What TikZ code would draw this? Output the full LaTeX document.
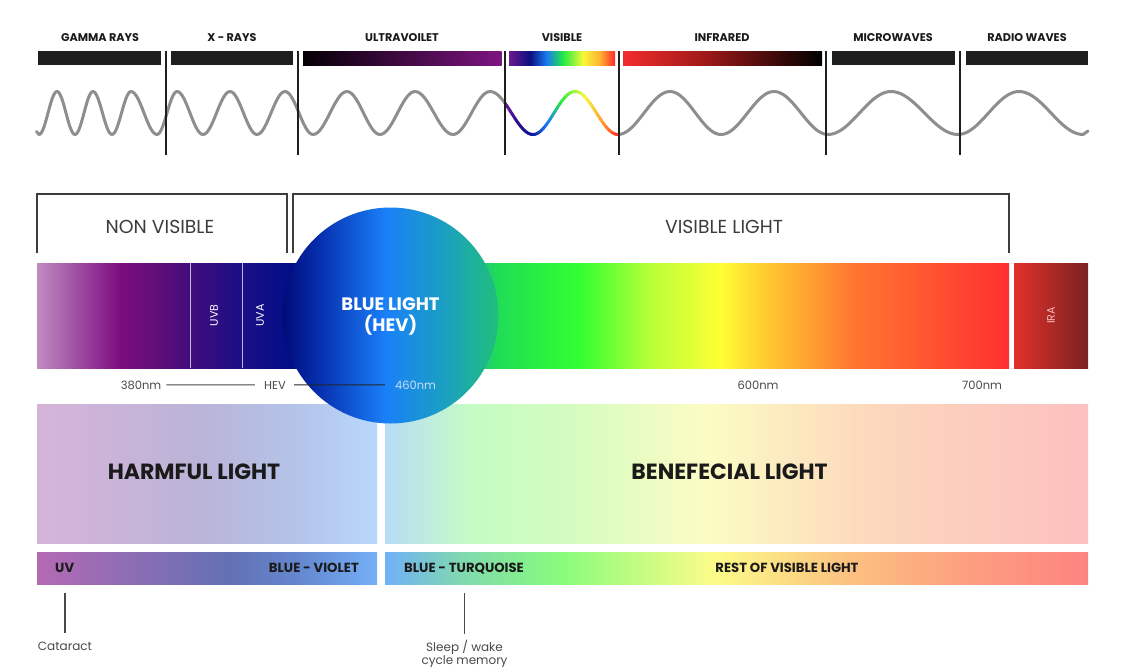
\documentclass[tikz,border=0pt]{standalone}
\usepackage{fontspec}
\setmainfont{Poppins}
\definecolor{ink}{HTML}{1A1A1A}
\definecolor{soft}{HTML}{3C3C3C}
\definecolor{note}{HTML}{4A4A4A}
\definecolor{barblack}{HTML}{1F1F1F}
\definecolor{wavegray}{HTML}{8E8E8E}
\definecolor{divider}{HTML}{1E1E1E}
\definecolor{iratext}{HTML}{F4B8B8}
\definecolor{hevtext}{HTML}{C8DCF8}
% horizontal multi-stop gradient: #1 top y, #2 bottom y, #3 list x/HEX
\newcommand\hgrad[3]{%
  \foreach \gx/\gc [remember=\gx as \gpx (initially 0), remember=\gc as \gpc (initially FFFFFF), count=\gi] in {#3}{%
    \ifnum\gi>1
      \definecolor{ga}{HTML}{\gpc}\definecolor{gb}{HTML}{\gc}%
      \shade[left color=ga,right color=gb] (\gpx,#1) rectangle ({\gx+0.5},#2);
    \fi}}
\begin{document}
\begin{tikzpicture}[x=1pt,y=-1pt,
  declare function={wvy(\t)=(\t<533)?(113-21.5*cos((\t-490)/43*180)):((\t<575)?(113+21.5*cos((\t-533)/42*180)):(113-21.5*cos((\t-575)/43*180)));},
  every node/.style={inner sep=0pt},
  toplab/.style={anchor=base, font=\bfseries\fontsize{11.2}{13}\selectfont, text=ink},
  brlab/.style={anchor=base, font=\fontsize{18.8}{22}\selectfont, text=soft},
  nmlab/.style={anchor=base, font=\fontsize{11.5}{14}\selectfont, text=note},
  rotlab/.style={rotate=90, font=\fontsize{11}{13}\selectfont, text=white},
  circlab/.style={anchor=base, font=\bfseries\fontsize{18}{20}\selectfont, text=white},
  biglab/.style={anchor=base, font=\bfseries\fontsize{22}{25}\selectfont, text=ink},
  barlab/.style={font=\bfseries\fontsize{13.2}{15}\selectfont, text=ink},
  notelab/.style={font=\fontsize{12}{13.5}\selectfont, text=note, align=center},
  bar/.style={fill=barblack},
  divline/.style={draw=divider, line width=2.6pt},
  wave/.style={draw=wavegray, line width=3pt, line cap=round, line join=round},
  bracket/.style={draw=soft, line width=1.4pt},
  pointer/.style={draw=note, line width=1.3pt},
  nmline/.style={draw=note, line width=1pt},
  sepline/.style={draw=white, draw opacity=0.7, line width=0.9pt},
]
\useasboundingbox (0,0) rectangle (1133,667);
\fill[white] (0,0) rectangle (1133,667);

% ---------- top band ----------
\node[toplab] (lgamma) at (100,41) {GAMMA RAYS};
\node[toplab] (lxray) at (232,41) {X - RAYS};
\node[toplab] (luv) at (402,41) {ULTRAVOILET};
\node[toplab] (lvis) at (562,41) {VISIBLE};
\node[toplab] (lir) at (722,41) {INFRARED};
\node[toplab] (lmw) at (893,41) {MICROWAVES};
\node[toplab] (lradio) at (1027,41) {RADIO WAVES};

\fill[bar] (38,51) rectangle (161,65);
\fill[bar] (171,51) rectangle (293,65);
\hgrad{51}{65}{303/050005, 501/7C1480}
\hgrad{51}{65}{509/6A1A8E, 530/0A0F80, 546/1A78F0, 563/22EC40, 583/F8F838, 600/FFB030, 614.5/FF2A2A}
\hgrad{51}{65}{623/F22C2C, 700/A41A1A, 821.5/000000}
\fill[bar] (832,51) rectangle (955,65);
\fill[bar] (966,51) rectangle (1088,65);

% wave (gray parts)
\draw[wave] (36.5,131.5) -- (39,134.5)
  \foreach \xa/\ya/\xb/\yb in {39/134.5/57/91.5, 57/91.5/75/134.5, 75/134.5/93/91.5, 93/91.5/112/134.5,
     112/134.5/131/91.5, 131/91.5/157/134.5, 157/134.5/177/91.5, 177/91.5/203/134.5, 203/134.5/230/91.5,
     230/91.5/257/134.5, 257/134.5/285/91.5, 285/91.5/313/134.5, 313/134.5/347/91.5, 347/91.5/380/134.5,
     380/134.5/415/91.5, 415/91.5/453/134.5, 453/134.5/490/91.5}
  { -- plot[domain=0:1,samples=16] ({\xa+(\xb-\xa)*\x},{(\ya+\yb)/2+(\ya-\yb)/2*cos(180*\x)}) }
  -- plot[domain=490:506,samples=8] (\x,{wvy(\x)});
\draw[wave] (618,134.5)
  \foreach \xa/\ya/\xb/\yb in {618/134.5/670/91.5, 670/91.5/721/134.5, 721/134.5/774/91.5, 774/91.5/828/134.5,
     828/134.5/891/91.5, 891/91.5/958/134.5, 958/134.5/1019/91.5, 1019/91.5/1083/134.5}
  { -- plot[domain=0:1,samples=20] ({\xa+(\xb-\xa)*\x},{(\ya+\yb)/2+(\ya-\yb)/2*cos(180*\x)}) }
  -- (1088,131);
% wave (coloured visible part)
\foreach \gx/\gc [remember=\gx as \gpx (initially 0), remember=\gc as \gpc (initially FFFFFF), count=\gi] in
   {505/6A1A9A, 520/2A0C8C, 533/0A14A0, 548/1C7CF8, 562/28EE3C, 585/F8F83C, 600/FFB030, 618/FF3026}{%
  \ifnum\gi>1
    \definecolor{ga}{HTML}{\gpc}\definecolor{gb}{HTML}{\gc}%
    \foreach \k in {0,...,5}{%
      \pgfmathsetmacro\xs{\gpx+(\gx-\gpx)*\k/6}%
      \pgfmathsetmacro\xe{\gpx+(\gx-\gpx)*(\k+1)/6}%
      \pgfmathtruncatemacro\pp{(\k+0.5)/6*100}%
      \draw[line width=3pt, line cap=round, color=gb!\pp!ga] plot[domain=\xs:\xe, samples=4] (\x,{wvy(\x)});
    }
  \fi}

\foreach \lx in {166,298,505,619,826,960}{\draw[divline] (\lx,51) -- (\lx,155);}

% ---------- brackets ----------
\draw[bracket] (37,253) -- (37,194) -- (287,194) -- (287,253);
\draw[bracket] (293,253) -- (293,194) -- (1009,194) -- (1009,253);
\node[brlab] (nonvis) at (160,233.5) {NON VISIBLE};
\node[brlab] (vislight) at (724,233.5) {VISIBLE LIGHT};

% ---------- spectrum bar ----------
\hgrad{263}{368}{37/C08CC0, 75/A050A4, 120/7C0C7E, 160/5E0E78, 190/420C7E, 242/1A0E86, 290/020E88, 330/0A3CC8, 390/1A7CF5, 450/18A8B0, 497/20DC58, 540/28F040, 580/33FF33, 650/B8FF38, 720/FFFF33, 760/FFD030, 850/FF7830, 1008.5/FF3030}
\draw[sepline] (190,263) -- (190,368);
\draw[sepline] (242,263) -- (242,368);
\node[rotlab] (uvb) at (214,315.5) {UVB};
\node[rotlab] (uva) at (260,315.5) {UVA};
\hgrad{263}{368}{1014/E2302A, 1087.5/7A2222}
\node[rotlab, text=iratext] (ira) at (1051,315.5) {IRA};

% ---------- harmful / beneficial ----------
\hgrad{404}{543}{37/D6B4D8, 200/BAB4D8, 300/B4C4EA, 376.5/B8D8FC}
\hgrad{404}{543}{385/B8DCF6, 470/C4FCC4, 560/D2FCC0, 706/FCFCC4, 870/FCD8BC, 1087.5/FCC0C0}
\node[biglab] (harm) at (194,479) {HARMFUL LIGHT};
\node[biglab] (bene) at (729.5,479) {BENEFECIAL LIGHT};

% ---------- nm scale (left part) ----------
\node[nmlab] (n380) at (141,389) {380nm};
\node[nmlab] (nhev) at (275,389) {HEV};
\node[nmlab] (n600) at (758,389) {600nm};
\node[nmlab] (n700) at (982,389) {700nm};
\draw[nmline, shorten <=5pt, shorten >=9pt] (n380.east) -- (nhev.west);

% ---------- blue light circle ----------
\begin{scope}
  \clip (390.5,315.5) circle[radius=108pt];
  \hgrad{205}{426}{282/020A78, 320/0630B0, 385/1A80F8, 445/1AA0C0, 499/20C078}
\end{scope}
\node[circlab] (bl1) at (390.5,310.5) {BLUE LIGHT};
\node[circlab] (bl2) at (390.5,331.5) {(HEV)};
\node[nmlab, text=hevtext] (n460) at (415.5,389) {460nm};
\draw[draw=black!85, line width=1pt, shorten <=8pt, shorten >=10pt] (nhev.east) -- (n460.west);

% ---------- bottom bars ----------
\hgrad{552}{584}{37/B46AB4, 228/6470B4, 300/6488D0, 376.5/74B0F8}
\hgrad{552}{584}{385/70B0F8, 460/80D8B0, 560/88FC7C, 713/FCFC88, 850/FCC080, 960/FCA080, 1087.5/FC8480}
\node[barlab, anchor=base west] (uvl) at (55,572.5) {UV};
\node[barlab, anchor=base east] (bvl) at (359,572.5) {BLUE - VIOLET};
\node[barlab, anchor=base west] (btl) at (404,572.5) {BLUE - TURQUOISE};
\node[barlab, anchor=base] (rvl) at (787,572.5) {REST OF VISIBLE LIGHT};

\coordinate (p1) at (65,593);
\coordinate (p2) at (464.5,593);
\node[notelab, anchor=base] (cat) at (65,650) {Cataract};
\node[notelab, anchor=north] (sleep) at (464.5,639.5) {Sleep / wake\\cycle memory};
\draw[pointer, shorten >=8pt] (p1) -- (cat.north);
\draw[pointer, shorten >=6pt] (p2) -- (sleep.north);
\end{tikzpicture}
\end{document}
